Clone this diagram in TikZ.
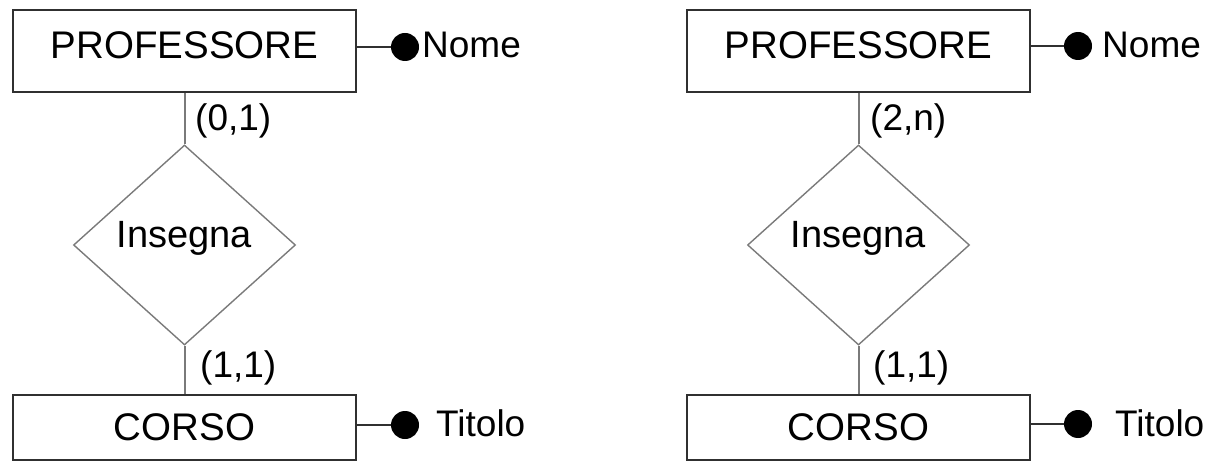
\documentclass[tikz,border=0pt]{standalone}
\usepackage{fontspec}
\setmainfont{Liberation Sans}
\usetikzlibrary{shapes.geometric}
\definecolor{boxline}{HTML}{303030}
\definecolor{relline}{HTML}{7A7A7A}
\begin{document}
\begin{tikzpicture}[x=1pt,y=-1pt,
  font=\fontsize{37}{44}\selectfont,
  entity/.style={draw=boxline,line width=2pt,rectangle,minimum width=343pt,inner sep=0pt,
    font=\fontsize{38.5}{46}\selectfont},
  relation/.style={draw=relline,line width=1.4pt,diamond,minimum width=222pt,minimum height=200pt,inner sep=0pt,
    text height=26.5pt,text depth=22pt,font=\fontsize{38}{46}\selectfont},
  attrdot/.style={circle,fill=black,draw=none,minimum size=28pt,inner sep=0pt},
  attrtext/.style={anchor=base west,inner sep=0pt},
  card/.style={anchor=base west,inner sep=0pt},
  attrlink/.style={draw=boxline,line width=1.8pt},
  rellink/.style={draw=relline,line width=2pt}]
\useasboundingbox (0,0) rectangle (1209,462);

% ---- left schema: PROFESSORE (0,1) -- Insegna -- (1,1) CORSO
\node[entity,minimum height=82pt,text height=27pt,text depth=12pt] (profA) at (184.5,51) {PROFESSORE};
\node[entity,minimum height=65pt] (corsoA) at (184.5,427.5) {CORSO};
\node[relation] (insA) at (184.5,245) {Insegna};
\node[attrdot] (nomeDotA) at (405,47) {};
\node[attrtext] (nomeA) at (422,58) {Nome};
\node[attrdot] (titDotA) at (405,425) {};
\node[attrtext] (titA) at (436,436) {Titolo};
\node[card] (cardA1) at (195,131) {(0,1)};
\node[card] (cardA2) at (200,377) {(1,1)};

\draw[rellink] (profA.south) -- (insA.north);
\draw[rellink] (insA.south) -- (corsoA.north);
\draw[attrlink] (nomeDotA) -- (nomeDotA -| profA.east);
\draw[attrlink] (titDotA) -- (titDotA -| corsoA.east);

% ---- right schema: PROFESSORE (2,n) -- Insegna -- (1,1) CORSO
\node[entity,minimum height=82pt,text height=27pt,text depth=12pt] (profB) at (858.5,51) {PROFESSORE};
\node[entity,minimum height=65pt] (corsoB) at (858.5,427.5) {CORSO};
\node[relation] (insB) at (858.5,245) {Insegna};
\node[attrdot] (nomeDotB) at (1078,46) {};
\node[attrtext] (nomeB) at (1102,58) {Nome};
\node[attrdot] (titDotB) at (1078,424) {};
\node[attrtext] (titB) at (1115,436) {Titolo};
\node[card] (cardB1) at (870,131) {(2,n)};
\node[card] (cardB2) at (873,377) {(1,1)};

\draw[rellink] (profB.south) -- (insB.north);
\draw[rellink] (insB.south) -- (corsoB.north);
\draw[attrlink] (nomeDotB) -- (nomeDotB -| profB.east);
\draw[attrlink] (titDotB) -- (titDotB -| corsoB.east);
\end{tikzpicture}
\end{document}
